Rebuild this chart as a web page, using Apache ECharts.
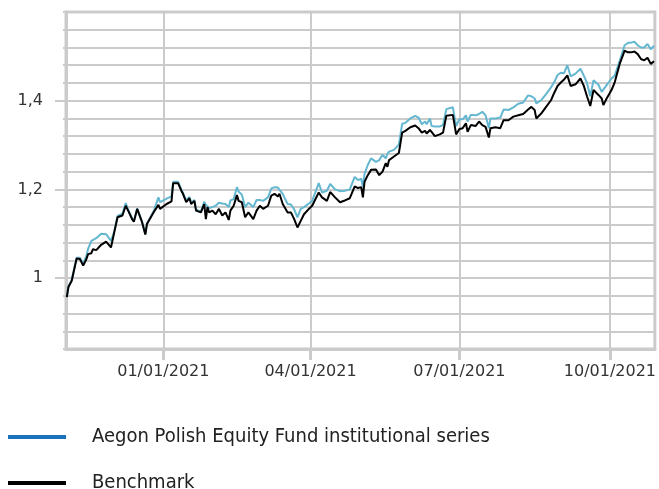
<!DOCTYPE html>
<html>
<head>
<meta charset="utf-8">
<script src="https://cdn.jsdelivr.net/npm/echarts@6/dist/echarts.min.js"></script>
<style>
html,body{margin:0;padding:0;background:#fff;}
#chart{width:659px;height:489px;}
</style>
</head>
<body>
<div id="chart"></div>
<script>
const seriesNames = ['Aegon Polish Equity Fund institutional series', 'Benchmark'];

const dates = [
'2020-11-03','2020-11-04','2020-11-06','2020-11-09','2020-11-11','2020-11-13','2020-11-15','2020-11-16','2020-11-18','2020-11-19',
'2020-11-21','2020-11-24','2020-11-25','2020-11-27','2020-11-30','2020-12-02','2020-12-04','2020-12-07','2020-12-09','2020-12-11',
'2020-12-13','2020-12-14','2020-12-16','2020-12-19','2020-12-21','2020-12-22','2020-12-26','2020-12-29','2020-12-30','2021-01-03',
'2021-01-06','2021-01-07','2021-01-10','2021-01-12','2021-01-13','2021-01-15','2021-01-17','2021-01-18','2021-01-20','2021-01-21',
'2021-01-24','2021-01-26','2021-01-27','2021-01-28','2021-01-29','2021-01-31','2021-02-02','2021-02-04','2021-02-06','2021-02-08',
'2021-02-10','2021-02-11','2021-02-13','2021-02-15','2021-02-16','2021-02-18','2021-02-20','2021-02-22','2021-02-25','2021-02-27',
'2021-03-01','2021-03-03','2021-03-06','2021-03-08','2021-03-10','2021-03-12','2021-03-13','2021-03-15','2021-03-16','2021-03-18',
'2021-03-20','2021-03-22','2021-03-24','2021-03-26','2021-03-28','2021-03-31','2021-04-02','2021-04-06','2021-04-08','2021-04-11',
'2021-04-13','2021-04-16','2021-04-19','2021-04-22','2021-04-25','2021-04-28','2021-04-30','2021-05-02','2021-05-03','2021-05-04',
'2021-05-06','2021-05-08','2021-05-11','2021-05-13','2021-05-15','2021-05-17','2021-05-18','2021-05-19','2021-05-22','2021-05-25',
'2021-05-27','2021-05-29','2021-06-01','2021-06-04','2021-06-06','2021-06-08','2021-06-10','2021-06-11','2021-06-13','2021-06-14',
'2021-06-16','2021-06-19','2021-06-21','2021-06-23','2021-06-27','2021-06-28','2021-06-29','2021-07-01','2021-07-03','2021-07-05',
'2021-07-06','2021-07-08','2021-07-11','2021-07-13','2021-07-15','2021-07-17','2021-07-19','2021-07-20','2021-07-23','2021-07-26',
'2021-07-28','2021-07-31','2021-08-03','2021-08-06','2021-08-09','2021-08-12','2021-08-14','2021-08-16','2021-08-17','2021-08-20',
'2021-08-23','2021-08-26','2021-08-28','2021-08-30','2021-09-01','2021-09-03','2021-09-05','2021-09-07','2021-09-10','2021-09-13',
'2021-09-15','2021-09-17','2021-09-19','2021-09-21','2021-09-24','2021-09-26','2021-09-27','2021-09-29','2021-10-02','2021-10-04',
'2021-10-05','2021-10-07','2021-10-10','2021-10-12','2021-10-14','2021-10-16','2021-10-18','2021-10-20','2021-10-22','2021-10-24',
'2021-10-26','2021-10-28'
];

const fundValues = [
0.958,0.981,0.996,1.046,1.046,1.032,1.050,1.066,1.084,1.080,
1.090,1.100,1.098,1.099,1.084,1.105,1.140,1.145,1.169,1.150,
1.134,1.128,1.157,1.127,1.099,1.123,1.150,1.182,1.171,1.179,
1.184,1.217,1.217,1.200,1.192,1.175,1.183,1.170,1.176,1.155,
1.150,1.172,1.165,1.165,1.158,1.160,1.163,1.170,1.168,1.167,
1.160,1.175,1.178,1.205,1.195,1.188,1.160,1.170,1.160,1.176,
1.176,1.174,1.182,1.202,1.205,1.204,1.200,1.190,1.182,1.167,
1.166,1.155,1.137,1.156,1.160,1.168,1.174,1.214,1.193,1.197,
1.212,1.200,1.196,1.197,1.200,1.228,1.221,1.224,1.205,1.235,
1.255,1.270,1.262,1.266,1.278,1.270,1.280,1.285,1.289,1.301,
1.348,1.350,1.360,1.366,1.362,1.347,1.353,1.347,1.360,1.343,
1.342,1.342,1.345,1.381,1.385,1.381,1.343,1.358,1.358,1.367,
1.353,1.368,1.367,1.370,1.375,1.367,1.338,1.360,1.360,1.362,
1.380,1.379,1.385,1.393,1.396,1.412,1.410,1.405,1.394,1.401,
1.415,1.430,1.442,1.458,1.463,1.462,1.480,1.455,1.461,1.472,
1.457,1.440,1.410,1.446,1.436,1.420,1.418,1.435,1.450,1.457,
1.461,1.490,1.525,1.530,1.531,1.533,1.525,1.520,1.520,1.528,
1.516,1.524
];

const benchmarkValues = [
0.957,0.980,0.994,1.044,1.043,1.028,1.043,1.054,1.056,1.065,
1.063,1.075,1.074,1.082,1.069,1.103,1.137,1.141,1.163,1.148,
1.132,1.127,1.156,1.126,1.098,1.122,1.148,1.165,1.156,1.167,
1.173,1.214,1.214,1.197,1.190,1.171,1.180,1.167,1.174,1.152,
1.148,1.167,1.133,1.160,1.148,1.152,1.144,1.156,1.141,1.148,
1.131,1.152,1.163,1.187,1.174,1.171,1.137,1.148,1.133,1.152,
1.163,1.156,1.163,1.186,1.190,1.184,1.190,1.167,1.163,1.148,
1.148,1.133,1.114,1.129,1.144,1.156,1.163,1.193,1.182,1.174,
1.194,1.182,1.171,1.175,1.180,1.207,1.203,1.205,1.182,1.217,
1.232,1.244,1.245,1.232,1.240,1.259,1.251,1.266,1.274,1.282,
1.328,1.332,1.340,1.344,1.338,1.328,1.332,1.326,1.334,1.332,
1.320,1.324,1.328,1.366,1.368,1.366,1.324,1.336,1.338,1.349,
1.330,1.345,1.343,1.353,1.345,1.341,1.317,1.338,1.340,1.338,
1.356,1.356,1.364,1.367,1.370,1.380,1.386,1.379,1.360,1.371,
1.386,1.401,1.418,1.433,1.441,1.448,1.457,1.433,1.437,1.450,
1.434,1.410,1.388,1.424,1.413,1.405,1.390,1.405,1.424,1.442,
1.442,1.483,1.513,1.509,1.509,1.511,1.505,1.494,1.491,1.497,
1.483,1.489
];

const yLabelValues = [1, 1.2, 1.4];
const xTickDates = ['2021-01-01', '2021-04-01', '2021-07-01', '2021-10-01'];
const xRange = ['2020-11-02T12:00:00', '2021-10-28T12:00:00'];
const yRange = [0.84, 1.6];
const yStep = 0.04;

function localTime(s) {
  const p = s.split(/[-T:]/).map(Number);
  return new Date(p[0], p[1] - 1, p[2], p[3] || 0, p[4] || 0, p[5] || 0).getTime();
}
function pad(n) { return (n < 10 ? '0' : '') + n; }

const chart = echarts.init(document.getElementById('chart'), null, { renderer: 'canvas' });

const gridColor = '#cbcbcb';
const fundData = dates.map((d, i) => [localTime(d), fundValues[i]]);
const benchData = dates.map((d, i) => [localTime(d), benchmarkValues[i]]);
const xTicks = xTickDates.map(localTime);

const legendText = {
  fontFamily: '"Liberation Sans Narrow", "DejaVu Sans Condensed", "Noto Sans", sans-serif',
  fontSize: 20,
  color: '#222222',
  lineHeight: 20,
  padding: [0, 0, 0, 21]
};
function makeLegend(top, name, color) {
  return {
    orient: 'vertical', left: 8, top: top, padding: 0,
    icon: 'rect', itemWidth: 58, itemHeight: 4,
    selectedMode: false,
    textStyle: legendText,
    data: [{ name: name, itemStyle: { color: color } }]
  };
}

chart.setOption({
  animation: false,
  backgroundColor: '#ffffff',
  grid: {
    left: 66, right: 2, top: 12, bottom: 140,
    show: true, borderColor: gridColor, borderWidth: 3, backgroundColor: 'transparent'
  },
  legend: [
    makeLegend(427, seriesNames[0], '#1a73ba'),
    makeLegend(473, seriesNames[1], '#000000')
  ],
  xAxis: {
    type: 'value',
    min: localTime(xRange[0]),
    max: localTime(xRange[1]),
    axisLine: { show: true, lineStyle: { color: gridColor, width: 3 } },
    axisTick: { show: true, customValues: xTicks, length: 11, lineStyle: { color: gridColor, width: 3 } },
    splitLine: { show: true, lineStyle: { color: gridColor, width: 2 } },
    axisLabel: {
      customValues: xTicks,
      margin: 15,
      fontFamily: '"DejaVu Sans", sans-serif',
      fontSize: 16,
      color: '#333333',
      formatter: function (v) {
        const d = new Date(v);
        return pad(d.getMonth() + 1) + '/' + pad(d.getDate()) + '/' + d.getFullYear();
      }
    }
  },
  yAxis: [
    {
      type: 'value',
      min: yRange[0], max: yRange[1], interval: yStep,
      axisLine: { show: true, lineStyle: { color: gridColor, width: 3 } },
      axisTick: { show: true, length: 3, lineStyle: { color: gridColor, width: 2 } },
      splitLine: { show: true, lineStyle: { color: gridColor, width: 2 } },
      axisLabel: { show: false }
    },
    {
      type: 'value',
      position: 'left',
      min: yRange[0], max: yRange[1],
      axisLine: { show: false },
      splitLine: { show: false },
      axisTick: { show: true, customValues: yLabelValues, length: 11, lineStyle: { color: gridColor, width: 2 } },
      axisLabel: {
        customValues: yLabelValues,
        margin: 23,
        fontFamily: '"DejaVu Sans", sans-serif',
        fontSize: 16,
        color: '#333333',
        formatter: function (v) { return String(Math.round(v * 100) / 100).replace('.', ','); }
      }
    }
  ],
  series: [
    {
      name: seriesNames[0],
      type: 'line',
      data: fundData,
      showSymbol: false,
      symbol: 'none',
      itemStyle: { color: '#1a73ba' },
      lineStyle: { color: '#64b7d0', width: 2 },
      z: 2
    },
    {
      name: seriesNames[1],
      type: 'line',
      data: benchData,
      showSymbol: false,
      symbol: 'none',
      itemStyle: { color: '#000000' },
      lineStyle: { color: '#000000', width: 2 },
      z: 3
    }
  ]
});
</script>
</body>
</html>
